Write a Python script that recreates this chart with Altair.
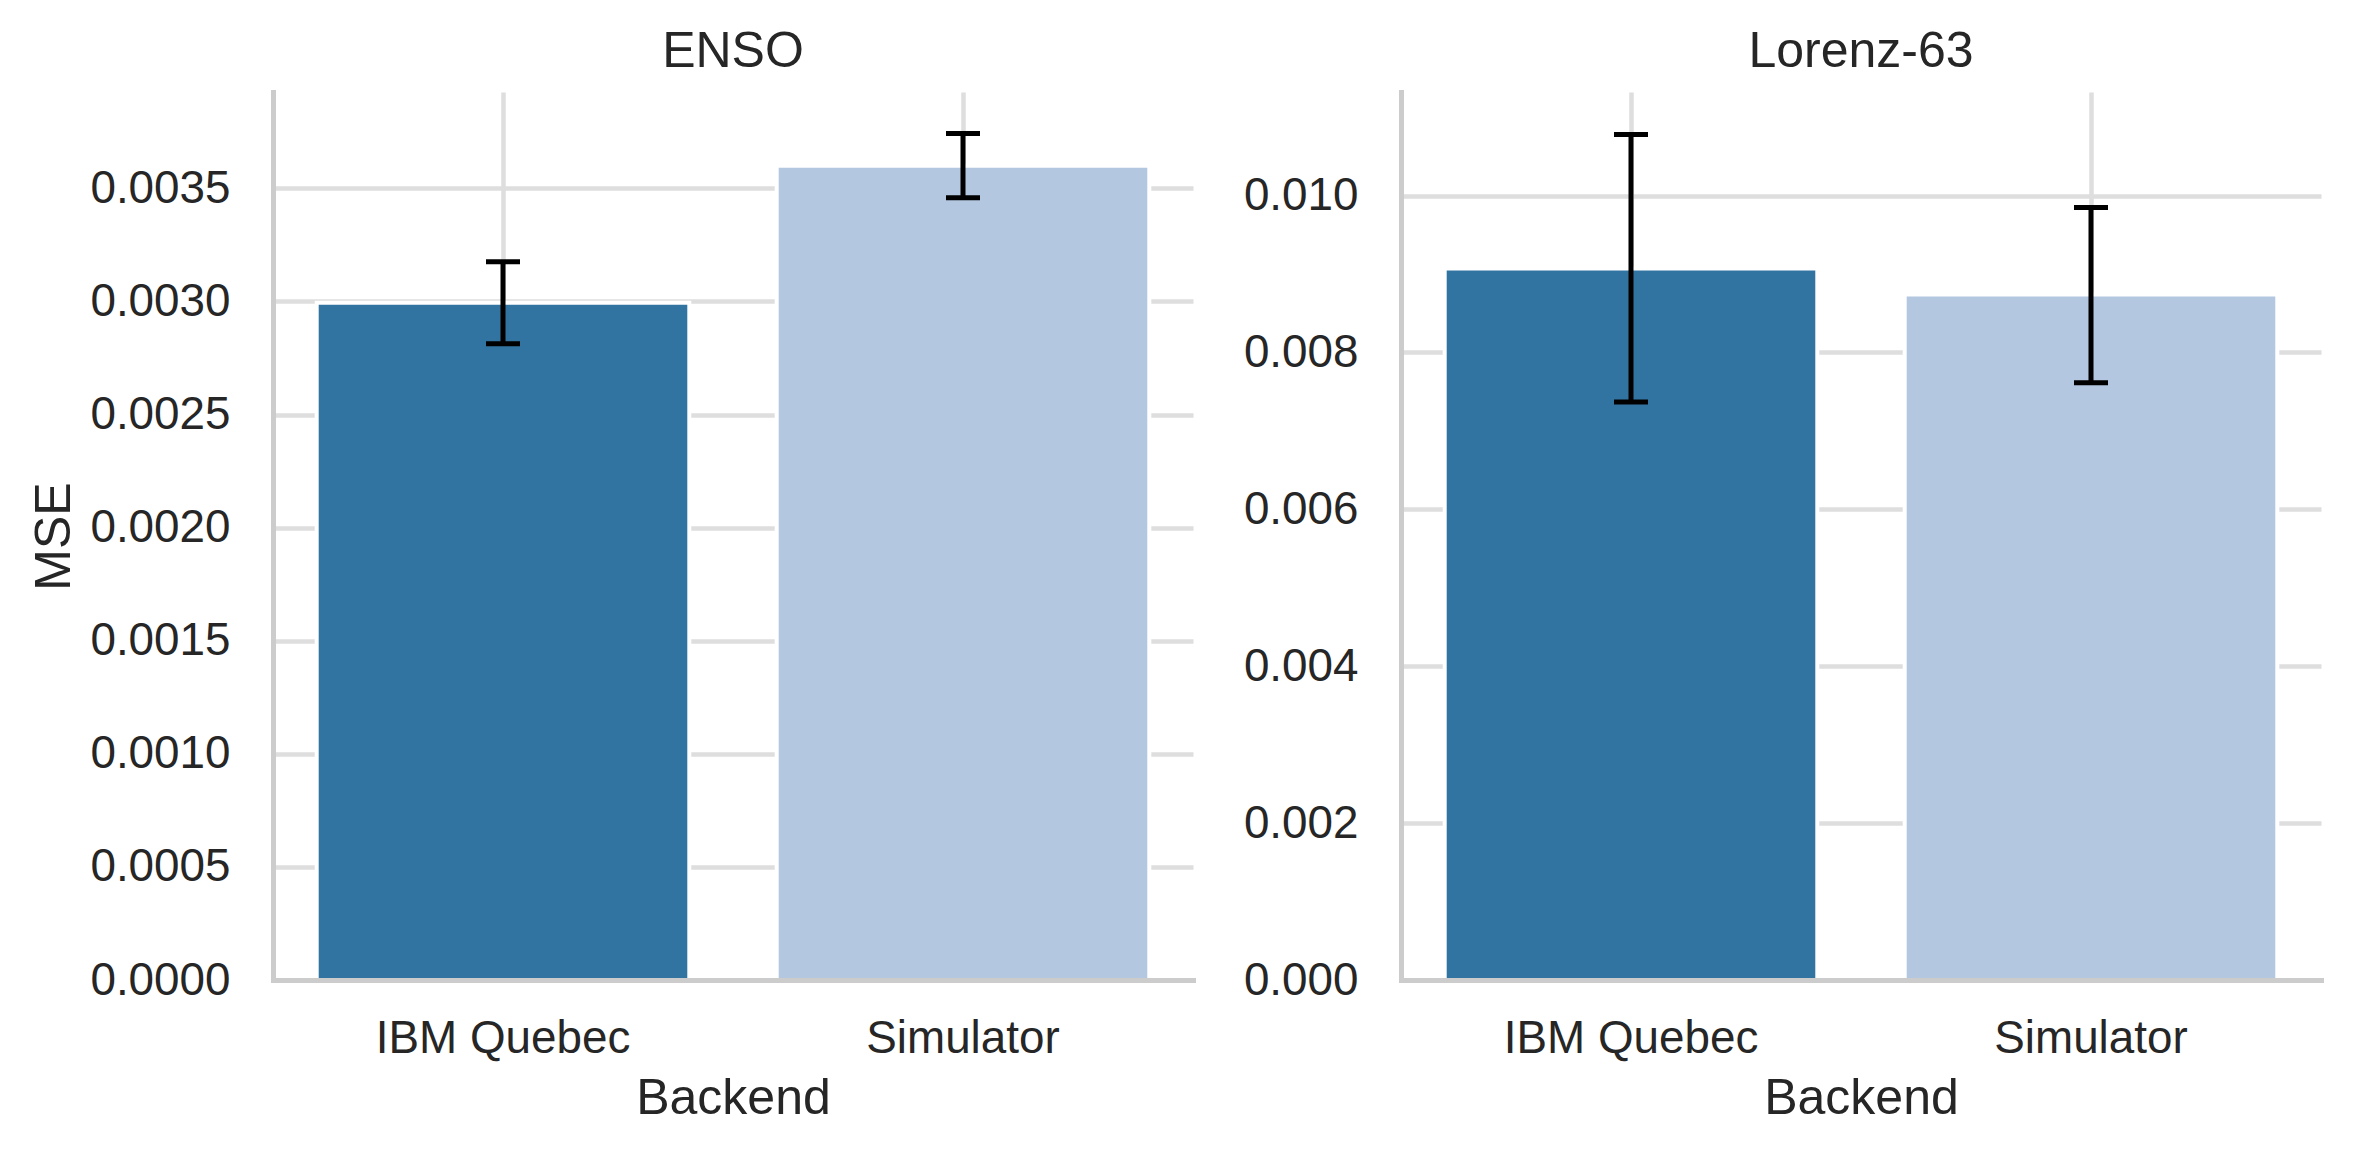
import altair as alt
import pandas as pd

backends = ["IBM Quebec", "Simulator"]
colors = ["#3274a1", "#b3c7e1"]

enso_mse = [0.002994, 0.003600]
enso_lo = [0.002813, 0.003459]
enso_hi = [0.003176, 0.003742]
enso_ticks = [0.0, 0.0005, 0.0010, 0.0015, 0.0020, 0.0025, 0.0030, 0.0035]
enso_max = 0.003926

lorenz_mse = [0.009070, 0.008740]
lorenz_lo = [0.007370, 0.007613]
lorenz_hi = [0.010779, 0.009847]
lorenz_ticks = [0.0, 0.002, 0.004, 0.006, 0.008, 0.010]
lorenz_max = 0.011321

FONT = "Liberation Sans"
TXT = "#262626"


def panel(title, mse, lo, hi, ticks, ymax, fmt, ytitle):
    df = pd.DataFrame({"Backend": backends, "MSE": mse, "lo": lo, "hi": hi})
    base = alt.Chart(df)
    xscale = alt.Scale(paddingInner=0.19, paddingOuter=0.095)
    yscale = alt.Scale(domain=[0, ymax], nice=False, zero=True)

    grid_x = alt.Axis(grid=True, domain=False, labels=False, ticks=False, title=None,
                      bandPosition=0.5, orient="bottom", zindex=0)
    grid_y = alt.Axis(grid=True, domain=False, labels=False, ticks=False, title=None,
                      values=ticks, orient="left", zindex=0)
    main_x = alt.Axis(grid=False, domain=True, ticks=False, title="Backend", labelAngle=0,
                      labelLimit=1000, labelPadding=36, titlePadding=13,
                      orient="bottom", zindex=1)
    y_kwargs = dict(grid=False, domain=True, ticks=False, values=ticks, format=fmt,
                    labelLimit=1000, labelPadding=43, titlePadding=10,
                    orient="left", zindex=1)
    if ytitle:
        main_y = alt.Axis(title=ytitle, **y_kwargs)
    else:
        main_y = alt.Axis(title=None, **y_kwargs)

    bars = base.mark_bar(stroke="white", strokeWidth=4).encode(
        x=alt.X("Backend:N", sort=backends, scale=xscale, axis=grid_x),
        y=alt.Y("MSE:Q", scale=yscale, axis=grid_y),
        color=alt.Color("Backend:N", sort=backends,
                        scale=alt.Scale(domain=backends, range=colors), legend=None),
    )
    rule = base.mark_rule(color="black", strokeWidth=5).encode(
        x=alt.X("Backend:N", sort=backends, axis=main_x),
        y=alt.Y("lo:Q", axis=main_y),
        y2="hi:Q",
    )
    cap_lo = base.mark_tick(color="black", size=34, thickness=5, opacity=1).encode(
        x=alt.X("Backend:N", sort=backends, axis=None),
        y=alt.Y("lo:Q", axis=None),
    )
    cap_hi = base.mark_tick(color="black", size=34, thickness=5, opacity=1).encode(
        x=alt.X("Backend:N", sort=backends, axis=None),
        y=alt.Y("hi:Q", axis=None),
    )
    return alt.layer(bars, rule, cap_lo, cap_hi).resolve_axis(
        x="independent", y="independent"
    ).properties(
        width=920, height=888,
        title=alt.Title(title, frame="group"),
    )


p1 = panel("ENSO", enso_mse, enso_lo, enso_hi, enso_ticks, enso_max, ".4f", "MSE")
p2 = panel("Lorenz-63", lorenz_mse, lorenz_lo, lorenz_hi, lorenz_ticks, lorenz_max, ".3f", None)

chart = alt.hconcat(p1, p2, spacing=50).configure_view(stroke=None).configure_axis(
    labelFont=FONT, labelFontSize=45.8, labelColor=TXT,
    titleFont=FONT, titleFontSize=50, titleColor=TXT, titleFontWeight="normal",
    domainColor="#cccccc", domainWidth=5, domainCap="square",
    gridColor="#dedede", gridWidth=4.5, tickSize=0,
).configure_title(
    font=FONT, fontSize=50, color=TXT, fontWeight="normal", offset=15,
    baseline="alphabetic", anchor="middle",
).properties(
    padding={"left": 21, "top": 19, "right": 5, "bottom": 5},
    background="white",
)

chart.save("out.html", embed_options={"renderer": "svg", "actions": False})
